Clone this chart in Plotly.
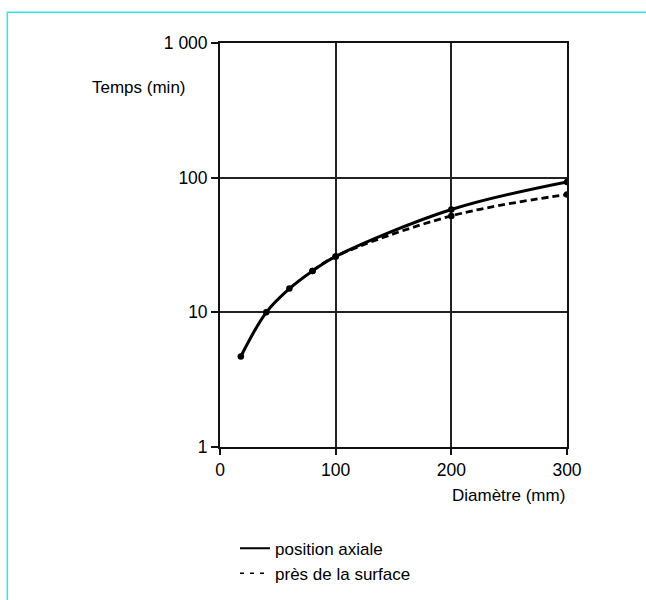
import plotly.graph_objects as go

# Data
diam_axial = [18, 40, 60, 80, 100, 200, 300]
temps_axial = [4.7, 10, 15, 20.3, 26, 58, 93]
diam_surface = [80, 100, 200, 300]
temps_surface = [20.3, 26, 52, 75]

y_tickvals = [1, 10, 100, 1000]
y_ticktext = ["1", "10", "100", "1 000"]
x_tickvals = [0, 100, 200, 300]

FONT = "Liberation Sans, Arial, Helvetica, sans-serif"

W, H = 646, 600
L, R, T, B = 220, 646 - 566.7, 43.3, 600 - 447.3
pw, ph = W - L - R, H - T - B

def px2paper_x(p):
    return (p - L) / pw

def px2paper_y(p):
    return (H - B - p) / ph

fig = go.Figure()

fig.add_trace(go.Scatter(
    x=diam_surface, y=temps_surface, mode="lines+markers",
    line=dict(color="black", width=2.8, dash="7px,4px", shape="spline", smoothing=1.0),
    marker=dict(color="black", size=6.5), showlegend=False, hoverinfo="skip"))

fig.add_trace(go.Scatter(
    x=diam_axial, y=temps_axial, mode="lines+markers",
    line=dict(color="black", width=3, shape="spline", smoothing=1.0),
    marker=dict(color="black", size=6.5), showlegend=False, hoverinfo="skip"))

# legend-only entries
fig.add_trace(go.Scatter(x=[None], y=[None], mode="lines", name="position axiale",
                         line=dict(color="black", width=1.8)))
fig.add_trace(go.Scatter(x=[None], y=[None], mode="lines", name="près de la surface",
                         line=dict(color="black", width=1.5, dash="4px,6px")))

fig.update_layout(
    width=W, height=H,
    margin=dict(l=L, r=R, t=T, b=B, pad=0, autoexpand=False),
    paper_bgcolor="white", plot_bgcolor="white",
    font=dict(family=FONT, size=17, color="black"),
    showlegend=True,
    legend=dict(x=px2paper_x(235), y=px2paper_y(531), xanchor="left", yanchor="top",
                font=dict(size=17, color="black"), bgcolor="rgba(0,0,0,0)",
                tracegroupgap=0, itemwidth=30),
    xaxis=dict(range=[0, 300], tickvals=x_tickvals, showgrid=True, gridcolor="#222",
               gridwidth=1.5, showline=True, linecolor="#111", linewidth=1.8, mirror=True,
               ticks="outside", ticklen=6, tickcolor="#111", tickwidth=1.5,
               zeroline=False, tickfont=dict(size=17.5)),
    yaxis=dict(type="log", range=[0, 3], tickvals=y_tickvals, ticktext=y_ticktext,
               showgrid=True, gridcolor="#222", gridwidth=1.5, showline=True,
               linecolor="#111", linewidth=1.8, mirror=True, ticks="outside", ticklen=7,
               tickcolor="#111", tickwidth=1.5, zeroline=False, tickfont=dict(size=17.5)),
    annotations=[
        dict(text="Temps (min)", xref="paper", yref="paper", x=px2paper_x(188),
             y=px2paper_y(88), xanchor="right", yanchor="middle", showarrow=False,
             font=dict(size=17)),
        dict(text="Diamètre (mm)", xref="paper", yref="paper", x=1.0,
             y=px2paper_y(496), xanchor="right", yanchor="middle", showarrow=False,
             font=dict(size=17)),
    ],
    shapes=[
        dict(type="path", xref="paper", yref="paper",
             path=f"M {px2paper_x(7.5)} {px2paper_y(605)} L {px2paper_x(7.5)} {px2paper_y(12.5)} L {px2paper_x(650)} {px2paper_y(12.5)}",
             line=dict(color="#2EE6EE", width=1.5), layer="above"),
    ],
)

fig.write_html("out.html", config={"displayModeBar": False},
               post_script="document.body.style.margin='0';")
